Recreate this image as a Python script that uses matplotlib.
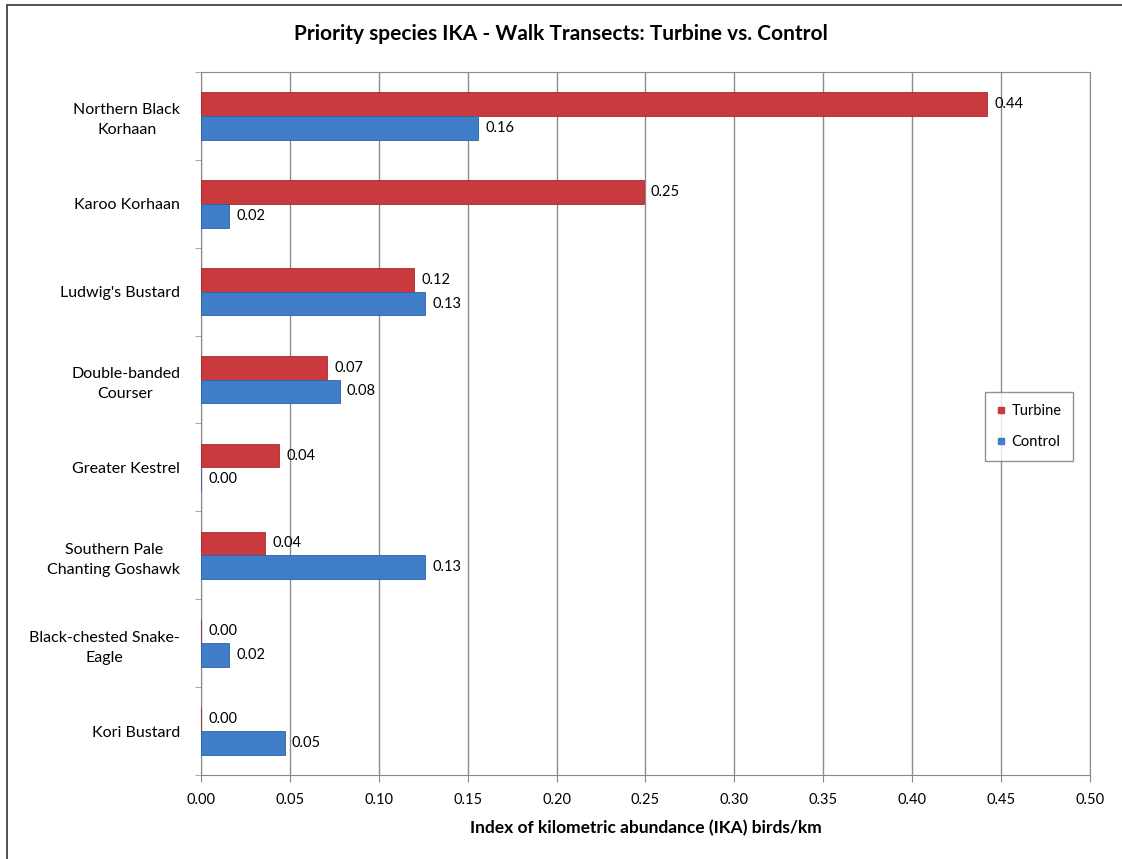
import matplotlib
matplotlib.use('Agg')
import matplotlib.pyplot as plt
import numpy as np
from matplotlib.lines import Line2D
from matplotlib.patches import Rectangle

plt.rcParams['font.family'] = ['Lato', 'DejaVu Sans']

# bird species and IKA values (birds/km)
species = ['Northern Black\nKorhaan', 'Karoo Korhaan', "Ludwig's Bustard",
           'Double-banded\nCourser', 'Greater Kestrel', 'Southern Pale\nChanting Goshawk',
           'Black-chested Snake-\nEagle', 'Kori Bustard']
turbine = [0.442, 0.249, 0.120, 0.071, 0.044, 0.036, 0.0, 0.0]
control = [0.156, 0.016, 0.126, 0.078, 0.0, 0.126, 0.016, 0.047]

red = '#C9393D'
blue = '#3F7DC9'

fig = plt.figure(figsize=(11.22, 8.59), dpi=100)
ax = fig.add_axes([0.1791, 0.0978, 0.7924, 0.8184])

# thin frame round the whole chart
fig.patches.append(Rectangle((0.0062, -0.01), 1.0, 1.0042, transform=fig.transFigure,
                             fill=False, edgecolor='#333333', linewidth=1.2))

y = np.arange(len(species))
h = 0.27
ax.barh(y - h / 2, turbine, height=h, color=red, edgecolor='#A8292D', linewidth=0.6, zorder=3)
ax.barh(y + h / 2, control, height=h, color=blue, edgecolor='#2E62A3', linewidth=0.6, zorder=3)

for yi, v in zip(y, turbine):
    ax.text(v + 0.004, yi - h / 2, '%.2f' % v, va='center', ha='left', fontsize=10.5, zorder=4)
for yi, v in zip(y, control):
    ax.text(v + 0.004, yi + h / 2, '%.2f' % v, va='center', ha='left', fontsize=10.5, zorder=4)

ax.set_xlim(0, 0.5)
ax.set_ylim(len(species) - 0.5, -0.5)
ax.set_xticks(np.arange(0, 0.501, 0.05))
ax.set_xticklabels(['%.2f' % t for t in np.arange(0, 0.501, 0.05)], fontsize=10.5)
ax.set_yticks(y)
ax.set_yticklabels(species, fontsize=11.5, multialignment='center', linespacing=1.55)
ax.set_yticks(np.arange(-0.5, len(species), 1.0), minor=True)
ax.tick_params(axis='y', which='major', length=0, pad=15)
ax.tick_params(axis='y', which='minor', length=4, color='#999999')
ax.tick_params(axis='x', length=5, color='#888888', pad=8)
ax.xaxis.grid(True, color='#8C8C8C', linewidth=1.0, zorder=0)
ax.set_axisbelow(True)
for s in ['top', 'right']:
    ax.spines[s].set_color('#8C8C8C')
ax.spines['left'].set_color('#888888')
ax.spines['bottom'].set_color('#888888')

ax.set_xlabel('Index of kilometric abundance (IKA) birds/km', fontsize=12.5,
              fontweight='bold', labelpad=9)
fig.text(0.5, 0.961, 'Priority species IKA - Walk Transects: Turbine vs. Control',
         ha='center', va='center', fontsize=15, fontweight='bold')

handles = [Line2D([], [], marker='s', linestyle='none', color=red, markersize=5),
           Line2D([], [], marker='s', linestyle='none', color=blue, markersize=5)]
leg = ax.legend(handles, ['Turbine', 'Control'], loc='upper left',
                bbox_to_anchor=(0.874, 0.555), fontsize=10.5, frameon=True,
                fancybox=False, edgecolor='#777777', handlelength=0.6,
                handletextpad=0.4, labelspacing=1.2, borderpad=0.8)
leg.get_frame().set_linewidth(1.0)

fig.savefig('out.png', dpi=100)
